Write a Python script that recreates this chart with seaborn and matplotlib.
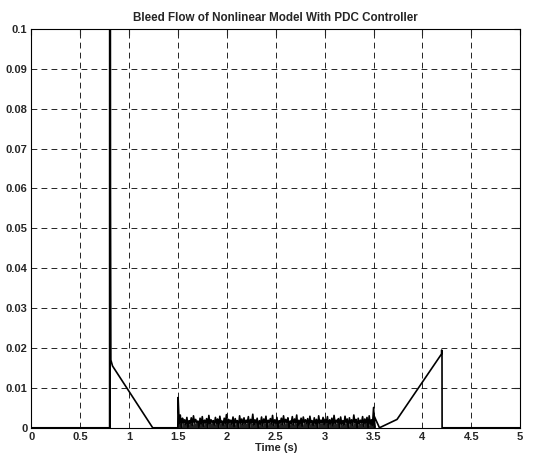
import numpy as np
import pandas as pd
import matplotlib
matplotlib.use("Agg")
import matplotlib.pyplot as plt
import seaborn as sns

sns.set_style("white")
plt.rcParams['font.family'] = ['Liberation Sans', 'DejaVu Sans']

# spike at 0.8 s and the linear decay that follows
t_start = [0.0, 0.800, 0.801, 0.803, 0.806, 0.808, 0.812, 0.829, 1.24, 1.497]
v_start = [0.0, 0.0, 0.15, 0.0, 0.15, 0.06, 0.017, 0.0155, 0.0, 0.0]

# chattering band between 1.5 s and 3.5 s (peak heights)
noise_peaks = [
    0.0076, 0.0032, 0.0024, 0.0020, 0.0026, 0.0018, 0.0025, 0.0030, 0.0021, 0.0017,
    0.0024, 0.0028, 0.0019, 0.0023, 0.0031, 0.0020, 0.0018, 0.0026, 0.0022, 0.0029,
    0.0017, 0.0024, 0.0033, 0.0021, 0.0019, 0.0027, 0.0023, 0.0018, 0.0030, 0.0022,
    0.0025, 0.0019, 0.0028, 0.0021, 0.0034, 0.0020, 0.0024, 0.0018, 0.0027, 0.0022,
    0.0029, 0.0019, 0.0023, 0.0031, 0.0020, 0.0026, 0.0018, 0.0024, 0.0030, 0.0021,
    0.0025, 0.0017, 0.0028, 0.0022, 0.0032, 0.0019, 0.0024, 0.0027, 0.0020, 0.0023,
    0.0029, 0.0018, 0.0025, 0.0021, 0.0030, 0.0019, 0.0026, 0.0022, 0.0028, 0.0020,
    0.0024, 0.0031, 0.0019, 0.0023, 0.0027, 0.0018, 0.0029, 0.0022, 0.0025, 0.0020,
    0.0032, 0.0021, 0.0024, 0.0019, 0.0028, 0.0022, 0.0026, 0.0030, 0.0020, 0.0051,
]
noise_troughs = [
    0.0010, 0.0000, 0.0012, 0.0008, 0.0000, 0.0011, 0.0006, 0.0012, 0.0013, 0.0000,
    0.0009, 0.0004, 0.0012, 0.0000, 0.0010, 0.0013, 0.0007, 0.0011, 0.0000, 0.0012,
    0.0006, 0.0010, 0.0000, 0.0013, 0.0009, 0.0003, 0.0012, 0.0000, 0.0011, 0.0008,
    0.0010, 0.0013, 0.0000, 0.0012, 0.0007, 0.0011, 0.0000, 0.0009, 0.0005, 0.0012,
    0.0000, 0.0013, 0.0010, 0.0006, 0.0011, 0.0000, 0.0012, 0.0008, 0.0010, 0.0013,
    0.0000, 0.0011, 0.0007, 0.0012, 0.0000, 0.0009, 0.0004, 0.0013, 0.0011, 0.0000,
    0.0012, 0.0006, 0.0010, 0.0000, 0.0011, 0.0013, 0.0008, 0.0012, 0.0000, 0.0010,
    0.0005, 0.0011, 0.0013, 0.0000, 0.0009, 0.0007, 0.0012, 0.0000, 0.0011, 0.0006,
    0.0013, 0.0000, 0.0010, 0.0012, 0.0004, 0.0011, 0.0000, 0.0009, 0.0006, 0.0000,
]

# recovery ramp and cut-off at 4.2 s
t_end = [3.505, 3.56, 3.74, 4.195, 4.197, 4.20, 4.201, 5.0]
v_end = [0.0030, 0.0, 0.0021, 0.0185, 0.0195, 0.018, 0.0, 0.0]

# build the noise band as a zigzag between peaks and troughs
t_peaks = np.linspace(1.5, 3.5, len(noise_peaks))
step = t_peaks[1] - t_peaks[0]
t_noise, v_noise = [], []
for tp, vp, vt in zip(t_peaks, noise_peaks, noise_troughs):
    t_noise += [tp, tp + step / 2]
    v_noise += [vp, vt]

t_all = list(t_start) + t_noise + list(t_end)
v_all = list(v_start) + v_noise + list(v_end)
df = pd.DataFrame({"time": t_all, "flow": v_all})
df_band = pd.DataFrame({"time": t_noise, "flow": v_noise})

fig, ax = plt.subplots(figsize=(5.43, 4.59), dpi=100)
fig.subplots_adjust(left=0.058, right=0.958, bottom=0.068, top=0.937)

# gray trace of the spike just left of the black one
ax.plot([0.790, 0.790], [0, 0.15], color="#8c8c8c", lw=1.0)
sns.lineplot(data=df, x="time", y="flow", sort=False, estimator=None,
             color="black", lw=1.2, ax=ax)
# dark fill of the chattering band
ax.fill_between(df_band["time"], 0, np.minimum(df_band["flow"], 0.0013),
                color="#222222", lw=0)

ax.set_xlim(0, 5)
ax.set_ylim(0, 0.1)
ax.set_xticks(np.arange(0, 5.01, 0.5))
ax.set_yticks(np.arange(0, 0.101, 0.01))
ax.set_xticklabels(["0", "0.5", "1", "1.5", "2", "2.5", "3", "3.5", "4", "4.5", "5"])
ax.set_yticklabels(["0", "0.01", "0.02", "0.03", "0.04", "0.05", "0.06", "0.07",
                    "0.08", "0.09", "0.1"])
ax.grid(True, color="black", linestyle=(0, (7, 5)), lw=0.6)
ax.tick_params(direction="in", top=True, right=True, length=4, labelsize=8,
               pad=3, width=0.8)
for lab in ax.get_xticklabels() + ax.get_yticklabels():
    lab.set_fontweight("bold")
for sp in ax.spines.values():
    sp.set_color("black")
    sp.set_linewidth(0.8)

ax.set_xlabel("Time (s)", fontsize=8, fontweight="bold", labelpad=1)
ax.set_ylabel("")
ax.set_title("Bleed Flow of Nonlinear Model With PDC Controller", fontsize=8.4,
             fontweight="bold", pad=6)

plt.savefig("out.png", dpi=100)
